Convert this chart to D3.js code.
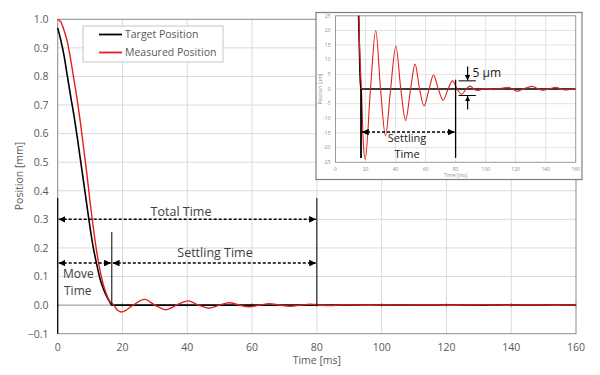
<!DOCTYPE html>
<html>
<head>
<meta charset="utf-8">
<script src="https://cdn.jsdelivr.net/npm/d3@7"></script>
<style>
  body { margin: 0; background: #fff; }
  svg { font-family: "Open Sans", "Noto Sans", sans-serif; }
</style>
</head>
<body>
<div id="chart"></div>
<script>
// target trajectory [ms] / [mm]
var targetTime = [0, 1, 2, 3, 4, 5, 6, 7, 8, 9, 10, 11, 12, 13, 14, 15, 16, 16.7, 40, 80, 120, 160];
var targetPos = [0.97, 0.925, 0.87, 0.80, 0.73, 0.665, 0.59, 0.51, 0.43, 0.35, 0.27, 0.2, 0.145, 0.095, 0.06, 0.033, 0.012, 0, 0, 0, 0, 0];

// measured trajectory [ms] / [mm]
var measuredTime = [0, 1, 2, 3, 4, 5, 6, 7, 8, 9, 10, 11, 12, 13, 14, 15, 16, 17.3,
    18.5, 19.8, 23.3, 26.8, 30, 33.3, 36.7, 40.2, 43.5, 46.7, 50, 53, 56, 59, 62.3, 65.3,
    68.5, 71.7, 75, 78, 81, 84, 87, 89.7, 92, 95, 98, 101, 105, 110, 115, 118, 121, 125,
    131, 135, 138, 142, 147, 150, 153, 157, 160];
var measuredPos = [1.0, 0.99, 0.96, 0.92, 0.86, 0.79, 0.72, 0.64, 0.55, 0.46, 0.36, 0.27, 0.19, 0.125, 0.075, 0.04, 0.015, 0,
    -0.018, -0.024, 0, 0.020, 0, -0.016, 0, 0.0147, 0, -0.0107, 0, 0.0085, 0, -0.0058, 0, 0.0048,
    0, -0.0038, 0, 0.0028, 0, -0.0018, 0, 0.001, 0, -0.0005, 0, 0.0002, -0.0002, 0.0002, 0.0006, 0, -0.0007, 0,
    0.0009, 0, -0.0004, 0, 0.0006, 0, -0.0003, 0, 0.0002];

var xTicks = [0, 20, 40, 60, 80, 100, 120, 140, 160];
var yTicks = [-0.1, 0, 0.1, 0.2, 0.3, 0.4, 0.5, 0.6, 0.7, 0.8, 0.9, 1.0];
var insetYTicks = [-25, -20, -15, -10, -5, 0, 5, 10, 15, 20, 25];

var moveEnd = 16.7;     // ms
var settleEnd = 80;     // ms
var bandTop = 2.8, bandBottom = -2.2;  // um

var width = 600, height = 375;
var red = "#e0201c";

var svg = d3.select("#chart").append("svg")
    .attr("width", width)
    .attr("height", height);

var defs = svg.append("defs");
defs.append("marker")
    .attr("id", "arrow")
    .attr("viewBox", "0 0 10 10")
    .attr("refX", 10).attr("refY", 5)
    .attr("markerWidth", 4.5).attr("markerHeight", 4.5)
    .attr("orient", "auto-start-reverse")
    .attr("markerUnits", "strokeWidth")
    .append("path")
    .attr("d", "M0,0L10,5L0,10z")
    .attr("fill", "#000");

var x = d3.scaleLinear().domain([0, 160]).range([57.7, 576]);
var y = d3.scaleLinear().domain([-0.1, 1.0]).range([333.7, 19.3]);

var main = svg.append("g");

// grid
main.append("g").selectAll("line").data(xTicks.slice(1, -1)).join("line")
    .attr("x1", d => x(d)).attr("x2", d => x(d))
    .attr("y1", y(1.0)).attr("y2", y(-0.1))
    .attr("stroke", "#dadada");
main.append("g").selectAll("line").data(yTicks.slice(1, -1)).join("line")
    .attr("x1", x(0)).attr("x2", x(160))
    .attr("y1", d => y(d)).attr("y2", d => y(d))
    .attr("stroke", d => d === 0 ? "#8c8c8c" : "#dadada");

main.append("rect")
    .attr("x", x(0)).attr("y", y(1.0))
    .attr("width", x(160) - x(0)).attr("height", y(-0.1) - y(1.0))
    .attr("fill", "none").attr("stroke", "#8c8c8c");

// small ticks on the zero line
main.append("g").selectAll("line").data(xTicks).join("line")
    .attr("x1", d => x(d)).attr("x2", d => x(d))
    .attr("y1", y(0) - 2).attr("y2", y(0) + 2)
    .attr("stroke", "#8c8c8c");

// tick labels
main.append("g").selectAll("text").data(xTicks).join("text")
    .attr("x", d => x(d)).attr("y", 351)
    .attr("text-anchor", "middle")
    .attr("font-size", 10.5).attr("fill", "#595959")
    .text(d => d);
main.append("g").selectAll("text").data(yTicks).join("text")
    .attr("x", 48.5).attr("y", d => y(d) + 3.8)
    .attr("text-anchor", "end")
    .attr("font-size", 10.5).attr("fill", "#595959")
    .text(d => d3.format(".1f")(d));

main.append("text")
    .attr("x", x(80)).attr("y", 364)
    .attr("text-anchor", "middle")
    .attr("font-size", 10.5).attr("fill", "#595959")
    .text("Time [ms]");
main.append("text")
    .attr("transform", "translate(23,176) rotate(-90)")
    .attr("text-anchor", "middle")
    .attr("font-size", 10.5).attr("fill", "#595959")
    .text("Position [mm]");

// curves
var line = d3.line()
    .x(d => x(d[0]))
    .y(d => y(d[1]))
    .curve(d3.curveMonotoneX);

main.append("path")
    .datum(d3.zip(targetTime, targetPos))
    .attr("d", line)
    .attr("fill", "none").attr("stroke", "#000").attr("stroke-width", 1.6);
main.append("path")
    .datum(d3.zip(measuredTime, measuredPos))
    .attr("d", line)
    .attr("fill", "none").attr("stroke", red).attr("stroke-width", 1.4);

// markers
function vline(g, xs, y1, y2, w) {
    g.append("line")
        .attr("x1", xs).attr("x2", xs)
        .attr("y1", y1).attr("y2", y2)
        .attr("stroke", "#000").attr("stroke-width", w || 1);
}
vline(main, x(0), y(0.375), y(-0.1), 1.2);
vline(main, x(moveEnd), y(0.256), y(0), 1);
vline(main, x(settleEnd), y(0.375), y(0), 1);

function arrow(g, x1, x2, yy, both) {
    g.append("line")
        .attr("x1", x1).attr("x2", x2)
        .attr("y1", yy).attr("y2", yy)
        .attr("stroke", "#000").attr("stroke-width", 1.5)
        .attr("stroke-dasharray", "3,2")
        .attr("marker-end", "url(#arrow)")
        .attr("marker-start", both ? "url(#arrow)" : null);
}
arrow(main, x(0) + 1, x(settleEnd) - 1, y(0.3), true);
arrow(main, x(0) + 1, x(moveEnd) - 1, y(0.147), true);
arrow(main, x(moveEnd) + 1, x(settleEnd) - 1, y(0.147), true);

var annot = main.append("g").attr("font-size", 12.5).attr("fill", "#404040");
annot.append("text").attr("x", 181).attr("y", 215.5).attr("text-anchor", "middle").text("Total Time");
annot.append("text").attr("x", 215).attr("y", 257.3).attr("text-anchor", "middle").text("Settling Time");
annot.append("text").attr("x", 63).attr("y", 278.3).attr("font-size", 12).text("Move");
annot.append("text").attr("x", 64).attr("y", 295).attr("font-size", 12).text("Time");

// legend
var legend = main.append("g");
legend.append("rect")
    .attr("x", 83).attr("y", 26).attr("width", 140).attr("height", 36)
    .attr("fill", "#fff").attr("stroke", "#c8c8c8");
var legendItems = [["Target Position", "#000"], ["Measured Position", red]];
legend.selectAll("g.item").data(legendItems).join("g")
    .attr("class", "item")
    .attr("transform", (d, i) => "translate(0," + (34.5 + i * 18) + ")")
    .each(function (d) {
        var g = d3.select(this);
        g.append("line").attr("x1", 99).attr("x2", 122).attr("stroke", d[1]).attr("stroke-width", 1.8);
        g.append("text").attr("x", 125).attr("y", 3.6)
            .attr("font-size", 10.5).attr("fill", "#595959").text(d[0]);
    });

/* ------- INSET -------*/
var ix = d3.scaleLinear().domain([0, 160]).range([335.5, 575.7]);
var iy = d3.scaleLinear().domain([-25, 25]).range([162.3, 15.8]);

var inset = svg.append("g");
inset.append("rect")
    .attr("x", 316).attr("y", 12.5).attr("width", 266).attr("height", 167)
    .attr("fill", "#fff").attr("stroke", "#7f7f7f").attr("stroke-width", 1.2);

inset.append("g").selectAll("line").data(xTicks.slice(1, -1)).join("line")
    .attr("x1", d => ix(d)).attr("x2", d => ix(d))
    .attr("y1", iy(25)).attr("y2", iy(-25))
    .attr("stroke", "#dcdcdc").attr("stroke-width", 0.8);
inset.append("g").selectAll("line").data(insetYTicks.slice(1, -1)).join("line")
    .attr("x1", ix(0)).attr("x2", ix(160))
    .attr("y1", d => iy(d)).attr("y2", d => iy(d))
    .attr("stroke", "#dcdcdc").attr("stroke-width", 0.8);
inset.append("rect")
    .attr("x", ix(0)).attr("y", iy(25))
    .attr("width", ix(160) - ix(0)).attr("height", iy(-25) - iy(25))
    .attr("fill", "none").attr("stroke", "#999").attr("stroke-width", 1);

inset.append("g").selectAll("text").data(xTicks).join("text")
    .attr("x", d => ix(d)).attr("y", 170.5)
    .attr("text-anchor", "middle")
    .attr("font-size", 5).attr("fill", "#8c8c8c")
    .text(d => d);
inset.append("g").selectAll("text").data(insetYTicks).join("text")
    .attr("x", 330.5).attr("y", d => iy(d) + 1.7)
    .attr("text-anchor", "end")
    .attr("font-size", 5).attr("fill", "#8c8c8c")
    .text(d => d);
inset.append("text")
    .attr("x", ix(80)).attr("y", 176.5)
    .attr("text-anchor", "middle")
    .attr("font-size", 5).attr("fill", "#8c8c8c")
    .text("Time [ms]");
inset.append("text")
    .attr("transform", "translate(322," + iy(0) + ") rotate(-90)")
    .attr("text-anchor", "middle")
    .attr("font-size", 5).attr("fill", "#8c8c8c")
    .text("Position [µm]");

defs.append("clipPath").attr("id", "insetClip")
    .append("rect")
    .attr("x", ix(0)).attr("y", iy(25))
    .attr("width", ix(160) - ix(0)).attr("height", iy(-25) - iy(25));

var iline = d3.line()
    .x(d => ix(d[0]))
    .y(d => iy(d[1] * 1000))
    .curve(d3.curveMonotoneX);

var curves = inset.append("g").attr("clip-path", "url(#insetClip)");
curves.append("path")
    .datum(d3.zip(targetTime, targetPos))
    .attr("d", iline)
    .attr("fill", "none").attr("stroke", "#000").attr("stroke-width", 1.6);
curves.append("path")
    .datum(d3.zip(measuredTime, measuredPos))
    .attr("d", iline)
    .attr("fill", "none").attr("stroke", red).attr("stroke-width", 1.1);

vline(inset, ix(17), iy(0), iy(-23.5), 1.8);
vline(inset, ix(settleEnd), iy(3.2), iy(-23.5), 1.3);

arrow(inset, ix(17) + 1, ix(settleEnd) - 1, iy(-14.7), true);

// 5 um band
[bandTop, bandBottom].forEach(function (v) {
    inset.append("line")
        .attr("x1", ix(82)).attr("x2", ix(93.5))
        .attr("y1", iy(v)).attr("y2", iy(v))
        .attr("stroke", "#000").attr("stroke-width", 1);
});
inset.append("line")
    .attr("x1", ix(88)).attr("x2", ix(88))
    .attr("y1", 66.5).attr("y2", iy(bandTop) - 0.5)
    .attr("stroke", "#000").attr("stroke-width", 1.2)
    .attr("marker-end", "url(#arrow)");
inset.append("line")
    .attr("x1", ix(88)).attr("x2", ix(88))
    .attr("y1", 109.5).attr("y2", iy(bandBottom) + 0.5)
    .attr("stroke", "#000").attr("stroke-width", 1.2)
    .attr("marker-end", "url(#arrow)");

var iannot = inset.append("g").attr("fill", "#1a1a1a");
iannot.append("text").attr("x", 472.5).attr("y", 77).attr("font-size", 12).text("5 µm");
iannot.append("text").attr("x", 407).attr("y", 142.3).attr("font-size", 11)
    .attr("text-anchor", "middle").text("Settling");
iannot.append("text").attr("x", 407).attr("y", 157.5).attr("font-size", 11)
    .attr("text-anchor", "middle").text("Time");
</script>
</body>
</html>
